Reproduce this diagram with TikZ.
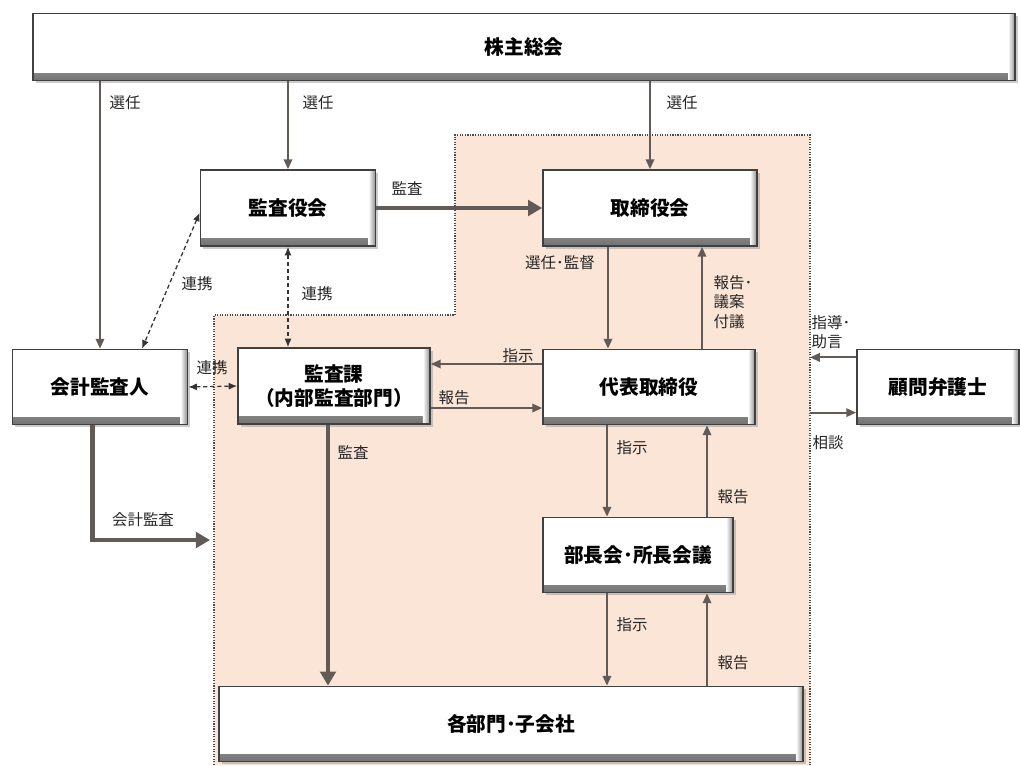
\documentclass[tikz,border=0pt]{standalone}
\usepackage{fontspec}
\setmainfont{Noto Sans CJK JP}
\usetikzlibrary{arrows.meta,calc,positioning,shadows}
\definecolor{auditpeach}{RGB}{251,229,214}
\definecolor{arrowgray}{RGB}{98,90,86}

\begin{document}
\begin{tikzpicture}[x=0.025cm,y=-0.025cm,
  every node/.style={align=center},
  box/.style={draw=black!75, line width=1.2pt, fill=white,
    drop shadow={shadow xshift=2pt,shadow yshift=-2pt,fill=black!40},
    path picture={
      \shade[top color=white, bottom color=black!55]
        (path picture bounding box.south west) rectangle ([yshift=5pt]path picture bounding box.south east);
      \shade[left color=white, right color=black!45]
        ([xshift=-5pt]path picture bounding box.north east) rectangle (path picture bounding box.south east);},
    font=\fontsize{14}{17}\selectfont\bfseries, inner sep=0pt},
  lbl/.style={font=\fontsize{11}{14}\selectfont, text=black!85, inner sep=1pt},
  arr/.style={-{Triangle[length=7pt,width=6pt]}, draw=arrowgray, line width=1.4pt},
  big/.style={-{Triangle[length=10pt,width=11pt]}, draw=arrowgray, line width=3.5pt},
  link/.style={{Latex[length=6pt,width=5pt]}-{Latex[length=6pt,width=5pt]},
    densely dashed, line width=0.9pt, draw=black!80}]

\useasboundingbox (0,0) rectangle (1020,765);
\fill[white] (0,0) rectangle (1020,765);

% Bereich intern (Kontrollbereich)
\fill[auditpeach] (214,765) -- (214,315) -- (455,315) -- (455,135) -- (810,135) -- (810,765) -- cycle;
\draw[black!70, densely dotted, line width=0.8pt]
  (214,765) -- (214,315) -- (455,315) -- (455,135) -- (810,135) -- (810,765);
\coordinate (zoneR) at (810,135);

% Organe
\node[box, minimum width=24.55cm, minimum height=1.675cm] (soukai) at (524,47) {株主総会};
\node[box, minimum width=4.375cm, minimum height=1.9cm] (kansayaku) at (288,208) {監査役会};
\node[box, minimum width=5.35cm, minimum height=1.9cm] (torishimari) at (650,208) {取締役会};
\node[box, minimum width=4.375cm, minimum height=1.875cm] (kaikei) at (100,387) {会計監査人};
\node[box, minimum width=4.8cm, minimum height=1.9cm] (kansaka) at (334,386) {監査課\\（内部監査部門）};
\node[box, minimum width=5.3cm, minimum height=1.875cm] (daihyo) at (649,387) {代表取締役};
\node[box, minimum width=4.05cm, minimum height=1.875cm] (komon) at (938,387) {顧問弁護士};
\node[box, minimum width=4.75cm, minimum height=1.875cm] (bucho) at (638,555) {部長会･所長会議};
\node[box, minimum width=14.6cm, minimum height=1.875cm] (kakubu) at (511,724) {各部門･子会社};

% Hilfspunkte
\coordinate (kkN) at ([xshift=1.05cm]kaikei.north);
\coordinate (kkS) at ([xshift=-0.19cm]kaikei.south);
\coordinate (kkEnd) at (210,540);
\coordinate (kaS) at ([xshift=-0.15cm]kansaka.south);
\coordinate (kaU) at ([yshift=0.55cm]kansaka.east);
\coordinate (kaD) at ([yshift=-0.55cm]kansaka.east);
\coordinate (tsL) at ([xshift=-1.05cm]torishimari.south);
\coordinate (dnR) at ([xshift=1.325cm]daihyo.north);
\coordinate (dsL) at ([xshift=-1.05cm]daihyo.south);
\coordinate (dsR) at ([xshift=1.45cm]daihyo.south);
\coordinate (kmU) at ([yshift=0.74cm]komon.west);
\coordinate (kmD) at ([yshift=-0.64cm]komon.west);

% Pfeile
\draw[arr] (kaikei.north |- soukai.south) -- (kaikei.north);
\draw[arr] (kansayaku.north |- soukai.south) -- (kansayaku.north);
\draw[arr] (torishimari.north |- soukai.south) -- (torishimari.north);
\draw[big] (kansayaku.east) -- (torishimari.west);
\draw[link] ([yshift=-0.12cm]kansayaku.west) -- (kkN);
\draw[link] (kansayaku.south) -- (kansayaku.south |- kansaka.north);
\draw[link] (kaikei.east) -- (kansaka.west);
\draw[arr] (tsL) -- (tsL |- daihyo.north);
\draw[arr] (dnR) -- (dnR |- torishimari.south);
\draw[arr] (kaU -| daihyo.west) -- (kaU);
\draw[arr] (kaD) -- (kaD -| daihyo.west);
\draw[arr] (kmU) -- (kmU -| zoneR);
\draw[arr] (kmD -| zoneR) -- (kmD);
\draw[arr] (dsL) -- (dsL |- bucho.north);
\draw[arr] (dsR |- bucho.north) -- (dsR);
\draw[arr] (dsL |- bucho.south) -- (dsL |- kakubu.north);
\draw[arr] (dsR |- kakubu.north) -- (dsR |- bucho.south);
\draw[big] (kaS) -- (kaS |- kakubu.north);
\draw[big, line join=miter] (kkS) |- (kkEnd);

% Beschriftungen
\node[lbl] (l1) at (125,103) {選任};
\node[lbl] (l2) at (318,103) {選任};
\node[lbl] (l3) at (682,103) {選任};
\node[lbl] (l4) at (407,188) {監査};
\node[lbl] (l5) at (197,284) {連携};
\node[lbl] (l6) at (317,294) {連携};
\node[lbl] (l7) at (212,368) {連携};
\node[lbl] (l8) at (560,263) {選任･監督};
\node[lbl, align=left] (l9) at (733,302) {報告･\\議案\\付議};
\node[lbl] (l10) at (518,356) {指示};
\node[lbl] (l11) at (454,398) {報告};
\node[lbl, align=left] (l12) at (831,332) {指導･\\助言};
\node[lbl] (l13) at (828,443) {相談};
\node[lbl] (l14) at (632,448) {指示};
\node[lbl] (l15) at (733,497) {報告};
\node[lbl] (l16) at (632,625) {指示};
\node[lbl] (l17) at (733,663) {報告};
\node[lbl] (l18) at (353,452) {監査};
\node[lbl] (l19) at (143,520) {会計監査};

\end{tikzpicture}
\end{document}
